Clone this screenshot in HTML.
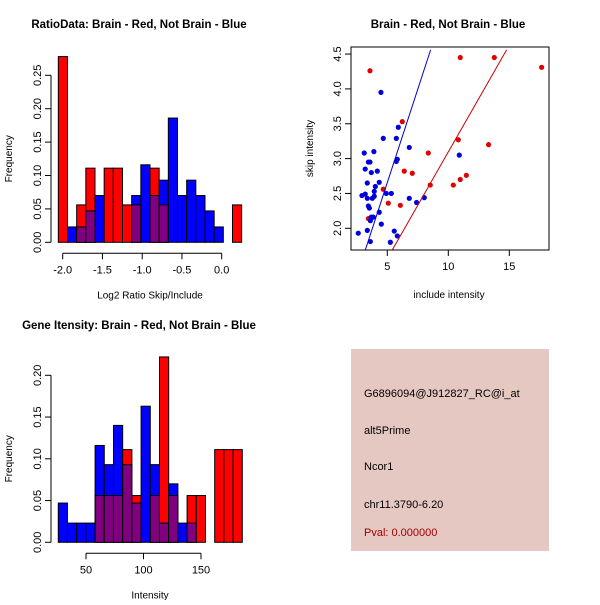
<!DOCTYPE html>
<html><head><meta charset="utf-8"><style>
body{margin:0;background:#fff}
svg text{font-family:"Liberation Sans",sans-serif;font-size:11px}
</style></head><body>
<svg id="s" width="600" height="600" xmlns="http://www.w3.org/2000/svg">
<rect x="0" y="0" width="600" height="600" fill="#fff"/>
<text x="139" y="28" text-anchor="middle" font-weight="bold" style="font-size:11.5px">RatioData: Brain - Red, Not Brain - Blue</text>
<text x="448" y="28" text-anchor="middle" font-weight="bold" style="font-size:11.5px">Brain - Red, Not Brain - Blue</text>
<text x="139" y="329" text-anchor="middle" font-weight="bold" style="font-size:11.5px">Gene Itensity: Brain - Red, Not Brain - Blue</text>
<g id="g1"></g>
<g id="g2"></g>
<g id="g3"></g>
<g>
<rect x="351" y="349" width="198" height="202" fill="#e6c8c2"/>
<text x="364" y="397">G6896094@J912827_RC@i_at</text>
<text x="364" y="434">alt5Prime</text>
<text x="364" y="470">Ncor1</text>
<text x="364" y="508">chr11.3790-6.20</text>
<text x="364" y="536" fill="#a00000">Pval: 0.000000</text>
</g>
</svg>
<script>
const NS="http://www.w3.org/2000/svg";
// Ratio histogram data
const ratioBinStart=-2.055, ratioBinWidth=0.1153;
const ratioRed=[0.278,0,0.056,0.111,0,0.111,0.111,0.056,0.056,0,0.111,0.056,0,0,0,0,0,0,0,0.056];
const ratioBlue=[0,0.023,0.023,0.047,0.070,0,0,0,0.070,0.116,0.070,0.093,0.186,0.070,0.093,0.070,0.047,0.023,0,0];
const ratioXTicks=[-2.0,-1.5,-1.0,-0.5,0.0];
const ratioYTicks=[0,0.05,0.10,0.15,0.20,0.25];
// Intensity histogram data
const intBinStart=25.9, intBinWidth=8.0;
const intRed=[0,0,0,0,0.056,0.056,0.056,0.111,0.056,0,0.056,0.222,0.056,0,0.056,0.056,0,0.111,0.111,0.111];
const intBlue=[0.047,0.023,0.023,0.023,0.116,0.093,0.140,0.093,0.047,0.163,0.093,0.023,0.070,0.023,0.023,0,0,0,0,0];
const intXTicks=[50,100,150];
const intYTicks=[0,0.05,0.10,0.15,0.20];
// Scatter data
const redX=[3.58,10.98,13.77,17.65,6.23,10.82,13.3,8.36,6.39,7.05,8.52,10.41,10.98,11.48,4.67,5.08,6.07,3.45];
const redY=[4.26,4.45,4.45,4.31,3.53,3.27,3.2,3.08,2.82,2.79,2.62,2.62,2.70,2.76,2.56,2.36,2.33,2.14];
const blueX=[4.48,5.9,4.67,5.74,6.8,10.9,3.11,3.9,5.82,5.74,3.45,3.58,3.19,3.69,4.18,3.36,4.34,4.02,3.93,2.92,3.19,3.36,3.77,3.93,4.92,5.33,6.8,7.4,8.03,3.45,3.53,4.34,3.69,3.85,3.61,4.51,3.36,2.62,5.57,5.82,3.61,5.25];
const blueY=[3.95,3.45,3.29,3.29,3.16,3.05,3.08,3.1,2.99,2.96,2.95,2.95,2.85,2.80,2.82,2.65,2.66,2.6,2.53,2.47,2.49,2.43,2.43,2.46,2.5,2.5,2.43,2.37,2.44,2.32,2.29,2.23,2.16,2.16,2.11,2.06,1.97,1.93,1.96,1.89,1.81,1.80];
const blueLine=[[3.2,1.69],[8.55,4.56]];
const redLine=[[5.41,1.69],[14.78,4.56]];
const scXTicks=[5,10,15];
const scYTicks=[2.0,2.5,3.0,3.5,4.0,4.5];

function el(t,a,p){const e=document.createElementNS(NS,t);for(const k in a)e.setAttribute(k,a[k]);p.appendChild(e);return e;}

function hist(g,o){
  const sx=v=>o.x0px+(v-o.xv0)*o.kx, sy=v=>o.base-v*o.ky;
  const n=o.red.length;
  for(let i=0;i<n;i++){
    const a=o.bs+i*o.bw,b=a+o.bw,r=o.red[i],bl=o.blue[i];
    const x=sx(a),w=sx(b)-sx(a);
    const draw=(h,c,nm)=>{if(h<=0)return;const e=el('rect',{x:x,y:sy(h),width:w,height:sy(0)-sy(h),fill:c,stroke:'#000','stroke-width':1},g);
      
      };
    if(r>=bl){draw(r,'#ff0000','bar-red-'+i);draw(bl,'#800080','bar-overlap-'+i);}
    else{draw(bl,'#0000ff','bar-blue-'+i);draw(r,'#800080','bar-overlap-'+i);}
  }
  const yt=o.yt;
  el('line',{x1:o.yax,x2:o.yax,y1:sy(yt[0]),y2:sy(yt[yt.length-1]),stroke:'#000'},g);
  yt.forEach(v=>{el('line',{x1:o.yax-6,x2:o.yax,y1:sy(v),y2:sy(v),stroke:'#000'},g);
    const t=el('text',{x:0,y:0,'text-anchor':'middle',transform:`translate(${o.yax-10},${sy(v)}) rotate(-90)`},g);t.textContent=v.toFixed(2);
    
    });
  const xt=o.xt, ay=o.base+11;
  el('line',{x1:sx(xt[0]),x2:sx(xt[xt.length-1]),y1:ay,y2:ay,stroke:'#000'},g);
  xt.forEach(v=>{el('line',{x1:sx(v),x2:sx(v),y1:ay,y2:ay+6,stroke:'#000'},g);
    const t=el('text',{x:sx(v),y:ay+20,'text-anchor':'middle'},g);t.textContent=o.fmt(v);
    
    });
  const yl=el('text',{x:0,y:0,'text-anchor':'middle',transform:`translate(12,${(sy(0)+sy(yt[yt.length-1]))/2}) rotate(-90)`,style:'font-size:10px'},g);yl.textContent='Frequency';
  
  
  const xl=el('text',{x:o.xlx,y:o.base+56,'text-anchor':'middle',style:'font-size:10px'},g);xl.textContent=o.xlab;
  
  
}
hist(document.getElementById('g1'),{red:ratioRed,blue:ratioBlue,bs:ratioBinStart,bw:ratioBinWidth,x0px:62.7,xv0:-2,kx:79.5,base:242.3,ky:668,yax:51,yt:ratioYTicks,xt:ratioXTicks,fmt:v=>v.toFixed(1),xlab:'Log2 Ratio Skip/Include',xlx:150});
hist(document.getElementById('g2'),{red:intRed,blue:intBlue,bs:intBinStart,bw:intBinWidth,x0px:86,xv0:50,kx:1.15,base:542.3,ky:835,yax:51,yt:intYTicks,xt:intXTicks,fmt:v=>String(v),xlab:'Intensity',xlx:150});

(function(){
  const g=document.getElementById('g3');
  const L=351,R=549,T=47,B=250;
  const sx=v=>387.3+(v-5)*12.2, sy=v=>228.3-(v-2)*69.7;
  const defs=el('defs',{},g);const cp=el('clipPath',{id:'clp'},defs);el('rect',{x:L,y:T,width:R-L,height:B-T},cp);
  const pts=(xs,ys,c,nm)=>xs.forEach((x,i)=>{const e=el('circle',{cx:sx(x),cy:sy(ys[i]),r:2.6,fill:c},g);
    
    });
  pts(redX,redY,'#e00000','point-brain');
  pts(blueX,blueY,'#0000dd','point-not-brain');
  const ln=(p,c,nm)=>{const e=el('line',{x1:sx(p[0][0]),y1:sy(p[0][1]),x2:sx(p[1][0]),y2:sy(p[1][1]),stroke:c,'clip-path':'url(#clp)'},g);
    
    };
  ln(blueLine,'#0000cc','fit-line-not-brain');ln(redLine,'#cc0000','fit-line-brain');
  el('rect',{x:L,y:T,width:R-L,height:B-T,fill:'none',stroke:'#000'},g);
  scXTicks.forEach(v=>{el('line',{x1:sx(v),x2:sx(v),y1:B,y2:B+6,stroke:'#000'},g);
    const t=el('text',{x:sx(v),y:B+20,'text-anchor':'middle'},g);t.textContent=v;
    
    });
  scYTicks.forEach(v=>{el('line',{x1:L-6,x2:L,y1:sy(v),y2:sy(v),stroke:'#000'},g);
    const t=el('text',{x:0,y:0,'text-anchor':'middle',transform:`translate(${L-10},${sy(v)}) rotate(-90)`},g);t.textContent=v.toFixed(1);
    
    });
  const xl=el('text',{x:449,y:298,'text-anchor':'middle',style:'font-size:10px'},g);xl.textContent='include intensity';
  
  
  const yl=el('text',{x:0,y:0,'text-anchor':'middle',transform:`translate(313,${(T+B)/2}) rotate(-90)`,style:'font-size:10px'},g);yl.textContent='skip intensity';
  
  
})();
</script>
</body></html>
